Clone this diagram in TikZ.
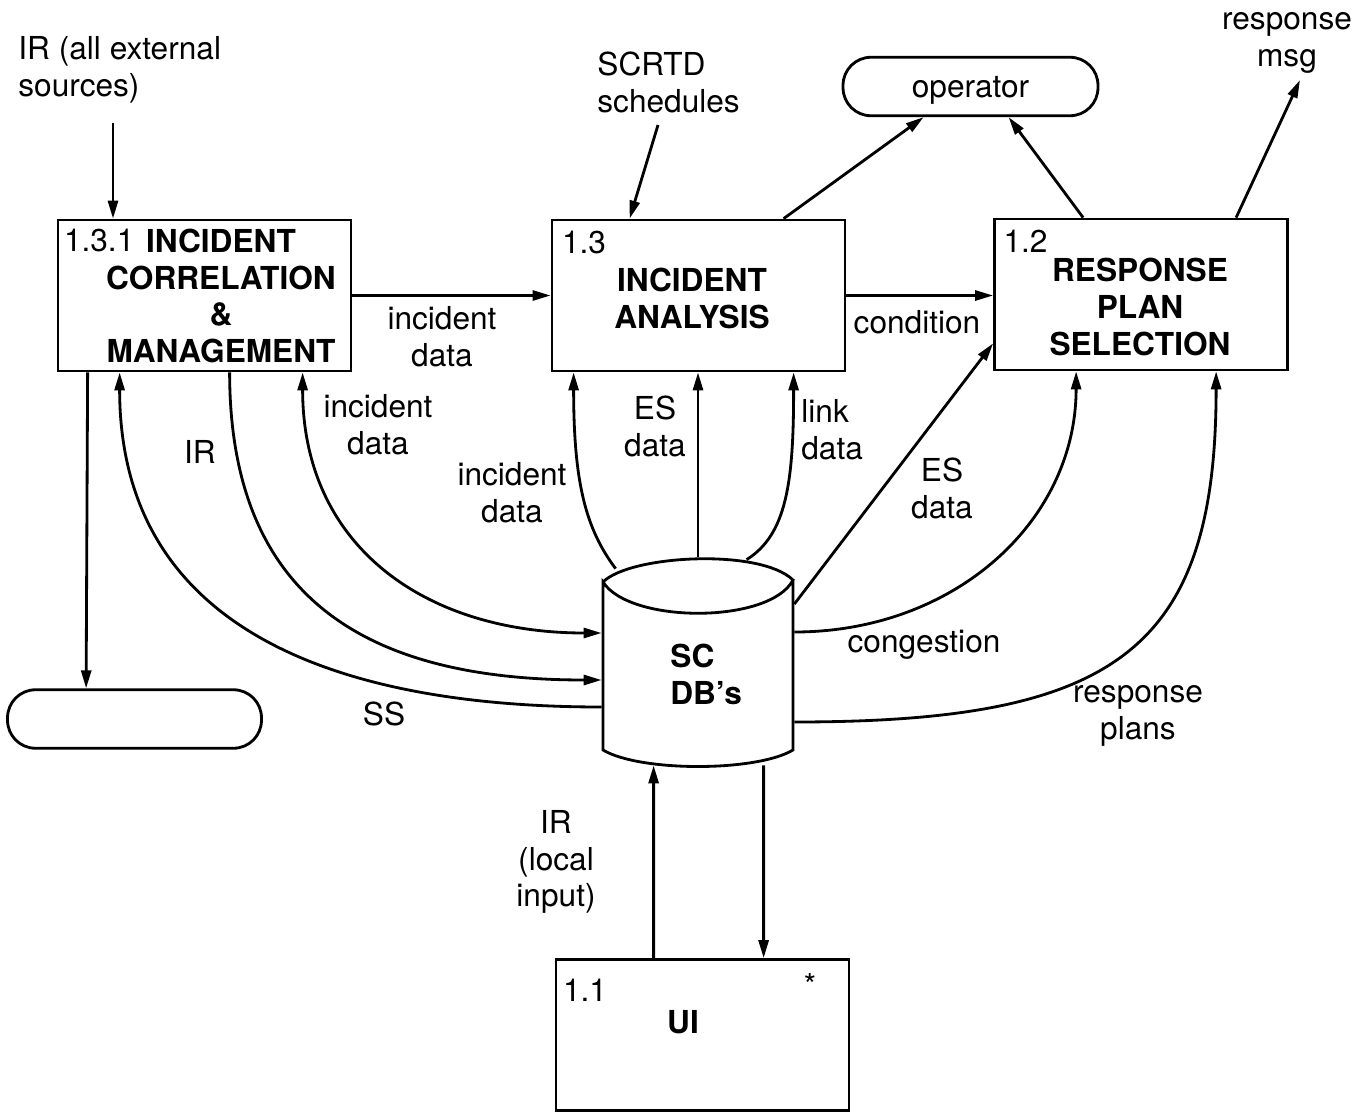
\documentclass[tikz,border=0pt]{standalone}
\usepackage{fontspec}
\setmainfont{TeX Gyre Heros}
\usetikzlibrary{arrows.meta,positioning,calc}

\begin{document}
\begin{tikzpicture}[
  x=0.02cm, y=-0.02cm,
  font=\fontsize{18}{21}\selectfont,
  line width=1.6pt,
  proc/.style={draw, minimum width=5.86cm, minimum height=3.02cm, inner sep=0pt},
  term/.style={draw, rounded corners=0.56cm, minimum width=5.08cm,
    minimum height=1.17cm, inner sep=0pt},
  ttl/.style={font=\fontsize{18}{21}\selectfont\bfseries, align=center, inner sep=0pt},
  num/.style={anchor=west, inner sep=0pt},
  lbl/.style={align=center, inner sep=0pt},
  arr/.style={-{Triangle[length=3.6mm, width=2mm]}},
  darr/.style={{Triangle[length=3.6mm, width=2mm]}-{Triangle[length=3.6mm, width=2mm]}}]
\useasboundingbox (0,0) rectangle (1369,1112);

% processes and terminators
\node[proc] (icm) at (204.5,295.5) {};
\node[proc] (ia) at (698.5,295.5) {};
\node[proc] (rps) at (1141,294.5) {};
\node[proc] (ui) at (702.5,1035) {};
\node[term, minimum width=5.1cm, text depth=0pt] (op) at (970.5,86.5) {operator};
\node[term] (ext) at (134.5,719) {};

\node[num] (icmnum) at ($(icm.north west)+(6,22)$) {1.3.1};
\node[ttl] (icmttl) at (221,296) {INCIDENT\\CORRELATION\\\&\\MANAGEMENT};
\node[num] (ianum) at ($(ia.north west)+(10,24)$) {1.3};
\node[ttl] (iattl) at (692,298.5) {INCIDENT\\ANALYSIS};
\node[num] (rpsnum) at ($(rps.north west)+(9,24)$) {1.2};
\node[ttl] (rpsttl) at (1140,307) {RESPONSE\\PLAN\\SELECTION};
\node[num] (uinum) at ($(ui.north west)+(7,32)$) {1.1};
\node[lbl] (uistar) at (810,985) {*};
\node[ttl] (uittl) at (683,1022) {UI};

% data store
\node[minimum width=3.8cm, minimum height=4.24cm, inner sep=0pt] (db) at (698,664) {};
\draw (603,582) .. controls (630,555) and (760,548) .. (793,580)
  .. controls (770,624) and (630,624) .. (603,582) -- (603,750)
  .. controls (640,772) and (756,772) .. (793,750) -- (793,580);
\node[ttl, align=left, anchor=west] (dbttl) at (669,674) {SC\\DB's};

% flow labels
\node[lbl, align=left, anchor=west] (irsrctxt) at (17,70) {IR (all external\\sources)};
\node[lbl, align=left, anchor=west] (scrtdtxt) at (596,82) {SCRTD\\schedules};
\node[lbl] (msgtxt) at (1287,43) {response\\msg};
\node[lbl] (incdata1) at (442,337) {incident\\data};
\node[lbl] (cond) at (917,322) {condition};
\node[lbl] (irlbl) at (200,452) {IR};
\node[lbl] (incdata2) at (378,425) {incident\\data};
\node[lbl] (incdata3) at (512,493) {incident\\data};
\node[lbl] (esdata1) at (655,426) {ES\\data};
\node[lbl, align=left, anchor=west] (linkdata) at (800,430) {link\\data};
\node[lbl] (esdata2) at (942,488) {ES\\data};
\node[lbl] (cong) at (924,645) {congestion};
\node[lbl] (rplans) at (1138,716) {response\\plans};
\node[lbl] (sslbl) at (384,714) {SS};
\node[lbl] (irlocal) at (556,862) {IR\\(local\\input)};

% flows
\coordinate (irtop) at (113,123);
\coordinate (scrtdend) at (658,125);
\coordinate (msgend) at (1300,80);
\draw[arr] (irtop) -- (irtop |- icm.north);
\draw[arr] (scrtdend) -- ($(ia.north west)+(79,0)$);
\draw[arr] ($(ia.north west)+(233,0)$) -- ($(op.south west)+(82,0)$);
\draw[arr] ($(rps.north west)+(90,0)$) -- ($(op.south west)+(167,0)$);
\draw[arr] ($(rps.north west)+(243,0)$) -- (msgend);
\draw[arr] (icm.east) -- (ia.west);
\draw[arr] (ia.east) -- (ia.east -| rps.west);
\draw[arr] ($(icm.south west)+(31,0)$) -- ($(ext.north west)+(80,0)$);

\draw[arr] ($(db.west)+(0,43)$) .. controls +(-260,0) and +(0,260) .. ($(icm.south west)+(63,0)$);
\draw[arr] ($(icm.south west)+(173,0)$) .. controls +(0,230) and +(-230,0) .. ($(db.west)+(0,16)$);
\draw[darr] ($(icm.south west)+(246,0)$) .. controls +(0,175) and +(-175,0) .. ($(db.west)+(0,-31)$);

\draw[arr] ($(db.north west)+(14,12)$) .. controls +(-30,-40) and +(0,110) .. ($(ia.south west)+(23,0)$);
\draw[arr] (db.north) -- (db.north |- ia.south);
\draw[arr] ($(db.north west)+(145,3)$) .. controls +(40,-25) and +(0,110) .. ($(ia.south west)+(243,0)$);

\draw[arr] ($(db.east)+(0,-60)$) -- ($(rps.south west)+(0,-28)$);
\draw[arr] ($(db.east)+(0,-32)$) .. controls +(160,0) and +(0,150) .. ($(rps.south west)+(83,0)$);
\draw[arr] ($(db.east)+(0,58)$) .. controls +(320,0) and +(0,280) .. ($(rps.south west)+(223,0)$);

\draw[arr] ($(ui.north west)+(99,0)$) -- ($(db.south west)+(52,-6)$);
\draw[arr] ($(db.south west)+(162,-6)$) -- ($(ui.north west)+(209,0)$);
\end{tikzpicture}
\end{document}
